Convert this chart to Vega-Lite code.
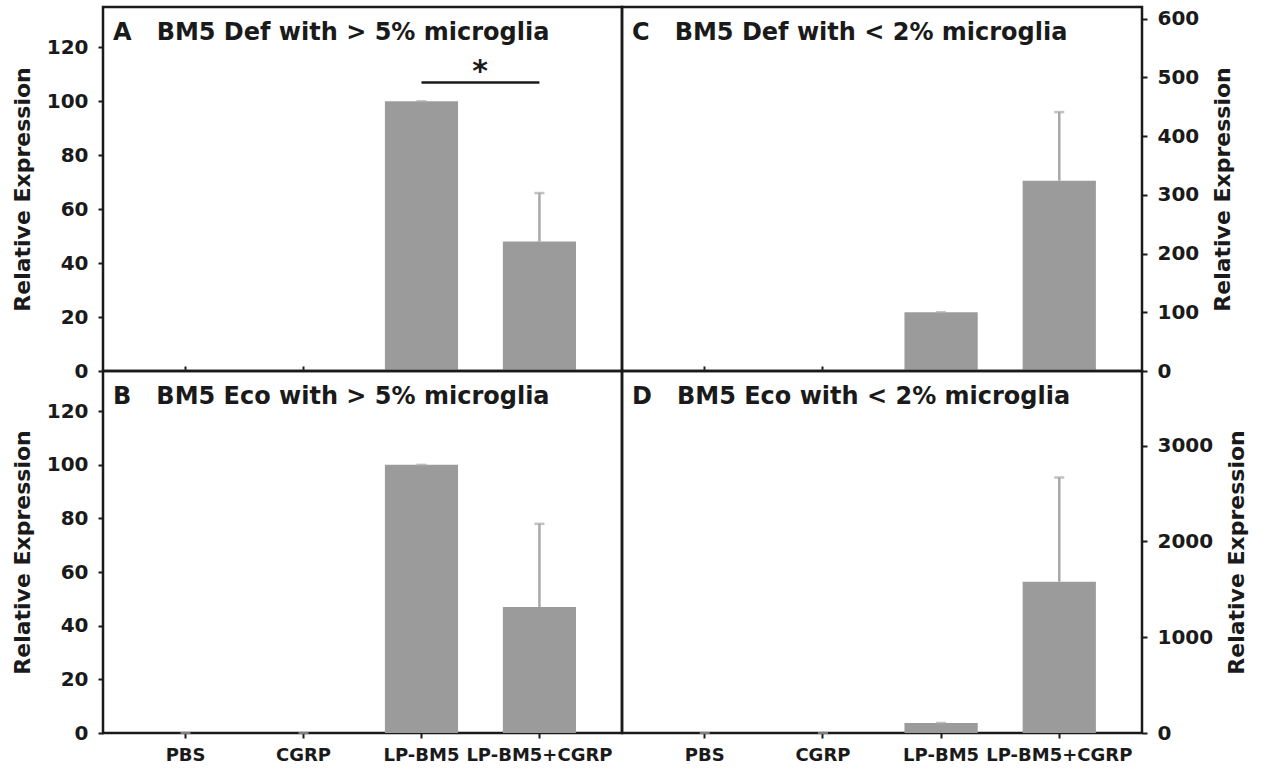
{
  "$schema": "https://vega.github.io/schema/vega-lite/v6.json",
  "padding": {"left": 10, "top": 5, "right": 5, "bottom": 5},
  "background": "white",
  "config": {
    "view": {"stroke": "#1a1a1a", "strokeWidth": 2.5},
    "font": "DejaVu Sans",
    "axis": {
      "labelFont": "DejaVu Sans", "labelFontWeight": "bold", "labelFontSize": 20, "labelColor": "#1a1a1a",
      "titleFont": "DejaVu Sans", "titleFontWeight": "bold", "titleFontSize": 22, "titleColor": "#1a1a1a",
      "tickColor": "#1a1a1a", "tickWidth": 2, "tickSize": 5, "domain": false, "grid": false
    },
    "title": {"font": "DejaVu Sans", "fontWeight": "bold", "fontSize": 24, "color": "#1a1a1a", "anchor": "start", "frame": "group", "offset": -38, "dx": 10}
  },
  "datasets": {
    "bars": [
      {"panel": "A", "group": "PBS", "value": 0, "upper": 0},
      {"panel": "A", "group": "CGRP", "value": 0, "upper": 0},
      {"panel": "A", "group": "LP-BM5", "value": 100, "upper": 100},
      {"panel": "A", "group": "LP-BM5+CGRP", "value": 48, "upper": 66},
      {"panel": "C", "group": "PBS", "value": 0, "upper": 0},
      {"panel": "C", "group": "CGRP", "value": 0, "upper": 0},
      {"panel": "C", "group": "LP-BM5", "value": 100, "upper": 100},
      {"panel": "C", "group": "LP-BM5+CGRP", "value": 324, "upper": 441},
      {"panel": "B", "group": "PBS", "value": 0, "upper": 0},
      {"panel": "B", "group": "CGRP", "value": 0, "upper": 0},
      {"panel": "B", "group": "LP-BM5", "value": 100, "upper": 100},
      {"panel": "B", "group": "LP-BM5+CGRP", "value": 47, "upper": 78},
      {"panel": "D", "group": "PBS", "value": 0, "upper": 0},
      {"panel": "D", "group": "CGRP", "value": 0, "upper": 0},
      {"panel": "D", "group": "LP-BM5", "value": 105, "upper": 105},
      {"panel": "D", "group": "LP-BM5+CGRP", "value": 1580, "upper": 2668}
    ],
    "sig": [
      {"from": "LP-BM5", "to": "LP-BM5+CGRP", "y": 107, "label": "*"}
    ]
  },
  "columns": 2,
  "spacing": 0,
  "bounds": "flush",
  "concat": [
    {
      "width": 519, "height": 364,
      "title": {"text": "A\u00a0\u00a0\u00a0BM5 Def with > 5% microglia"},
      "layer": [
        {
          "data": {"name": "bars"},
          "transform": [{"filter": "datum.panel == 'A'"}],
          "layer": [
            {
              "mark": {"type": "bar", "color": "#9b9b9b"},
              "encoding": {
                "x": {"field": "group", "type": "nominal", "scale": {"domain": ["PBS", "CGRP", "LP-BM5", "LP-BM5+CGRP"], "paddingInner": 0.38, "paddingOuter": 0.39}, "axis": {"labels": false, "title": null, "tickSize": -5}},
                "y": {"field": "value", "type": "quantitative", "scale": {"domain": [0, 135], "nice": false}, "axis": {"title": "Relative Expression", "values": [0, 20, 40, 60, 80, 100, 120], "labelPadding": 10, "titlePadding": 12}}
              }
            },
            {
              "mark": {"type": "rule", "color": "#a8a8a8", "strokeWidth": 2.5},
              "encoding": {
                "x": {"field": "group", "type": "nominal"},
                "y": {"field": "value", "type": "quantitative"},
                "y2": {"field": "upper"}
              }
            },
            {
              "mark": {"type": "tick", "color": "#a8a8a8", "thickness": 2.5, "size": 10, "orient": "horizontal"},
              "encoding": {
                "x": {"field": "group", "type": "nominal"},
                "y": {"field": "upper", "type": "quantitative"}
              }
            }
          ]
        },
        {
          "data": {"name": "sig"},
          "mark": {"type": "rule", "color": "#1a1a1a", "strokeWidth": 2.5},
          "encoding": {
            "x": {"field": "from", "type": "nominal"},
            "x2": {"field": "to"},
            "y": {"field": "y", "type": "quantitative"}
          }
        },
        {
          "data": {"name": "sig"},
          "mark": {"type": "text", "fontSize": 30, "fontWeight": "bold", "font": "DejaVu Sans", "color": "#1a1a1a", "baseline": "alphabetic", "dy": -1},
          "encoding": {
            "x": {"field": "from", "type": "nominal", "bandPosition": 1.3},
            "y": {"field": "y", "type": "quantitative"},
            "text": {"field": "label"}
          }
        }
      ]
    },
    {
      "width": 520, "height": 364,
      "title": {"text": "C\u00a0\u00a0\u00a0BM5 Def with < 2% microglia"},
      "data": {"name": "bars"},
      "transform": [{"filter": "datum.panel == 'C'"}],
      "encoding": {
        "x": {"field": "group", "type": "nominal", "scale": {"domain": ["PBS", "CGRP", "LP-BM5", "LP-BM5+CGRP"], "paddingInner": 0.38, "paddingOuter": 0.39}, "axis": {"labels": false, "title": null, "tickSize": -5}}
      },
      "layer": [
        {
          "mark": {"type": "bar", "color": "#9b9b9b"},
          "encoding": {
            "y": {"field": "value", "type": "quantitative", "scale": {"domain": [0, 620], "nice": false}, "axis": {"orient": "right", "title": "Relative Expression", "titleAngle": 270, "titleBaseline": "top", "values": [0, 100, 200, 300, 400, 500, 600], "format": "d", "labelPadding": 10, "titlePadding": 14}}
          }
        },
        {
          "mark": {"type": "rule", "color": "#a8a8a8", "strokeWidth": 2.5},
          "encoding": {
            "y": {"field": "value", "type": "quantitative"},
            "y2": {"field": "upper"}
          }
        },
        {
          "mark": {"type": "tick", "color": "#a8a8a8", "thickness": 2.5, "size": 10, "orient": "horizontal"},
          "encoding": {
            "y": {"field": "upper", "type": "quantitative"}
          }
        }
      ]
    },
    {
      "width": 519, "height": 362,
      "title": {"text": "B\u00a0\u00a0\u00a0BM5 Eco with > 5% microglia"},
      "data": {"name": "bars"},
      "transform": [{"filter": "datum.panel == 'B'"}],
      "encoding": {
        "x": {"field": "group", "type": "nominal", "scale": {"domain": ["PBS", "CGRP", "LP-BM5", "LP-BM5+CGRP"], "paddingInner": 0.38, "paddingOuter": 0.39}, "axis": {"title": null, "labelAngle": 0, "labelFontSize": 18, "labelPadding": 8}}
      },
      "layer": [
        {
          "mark": {"type": "bar", "color": "#9b9b9b"},
          "encoding": {
            "y": {"field": "value", "type": "quantitative", "scale": {"domain": [0, 135], "nice": false}, "axis": {"title": "Relative Expression", "values": [0, 20, 40, 60, 80, 100, 120], "labelPadding": 10, "titlePadding": 12}}
          }
        },
        {
          "mark": {"type": "rule", "color": "#a8a8a8", "strokeWidth": 2.5},
          "encoding": {
            "y": {"field": "value", "type": "quantitative"},
            "y2": {"field": "upper"}
          }
        },
        {
          "mark": {"type": "tick", "color": "#a8a8a8", "thickness": 2.5, "size": 10, "orient": "horizontal"},
          "encoding": {
            "y": {"field": "upper", "type": "quantitative"}
          }
        }
      ]
    },
    {
      "width": 520, "height": 362,
      "title": {"text": "D\u00a0\u00a0\u00a0BM5 Eco with < 2% microglia"},
      "data": {"name": "bars"},
      "transform": [{"filter": "datum.panel == 'D'"}],
      "encoding": {
        "x": {"field": "group", "type": "nominal", "scale": {"domain": ["PBS", "CGRP", "LP-BM5", "LP-BM5+CGRP"], "paddingInner": 0.38, "paddingOuter": 0.39}, "axis": {"title": null, "labelAngle": 0, "labelFontSize": 18, "labelPadding": 8}}
      },
      "layer": [
        {
          "mark": {"type": "bar", "color": "#9b9b9b"},
          "encoding": {
            "y": {"field": "value", "type": "quantitative", "scale": {"domain": [0, 3780], "nice": false}, "axis": {"orient": "right", "title": "Relative Expression", "titleAngle": 270, "titleBaseline": "top", "values": [0, 1000, 2000, 3000], "format": "d", "labelPadding": 10, "titlePadding": 14}}
          }
        },
        {
          "mark": {"type": "rule", "color": "#a8a8a8", "strokeWidth": 2.5},
          "encoding": {
            "y": {"field": "value", "type": "quantitative"},
            "y2": {"field": "upper"}
          }
        },
        {
          "mark": {"type": "tick", "color": "#a8a8a8", "thickness": 2.5, "size": 10, "orient": "horizontal"},
          "encoding": {
            "y": {"field": "upper", "type": "quantitative"}
          }
        }
      ]
    }
  ]
}
